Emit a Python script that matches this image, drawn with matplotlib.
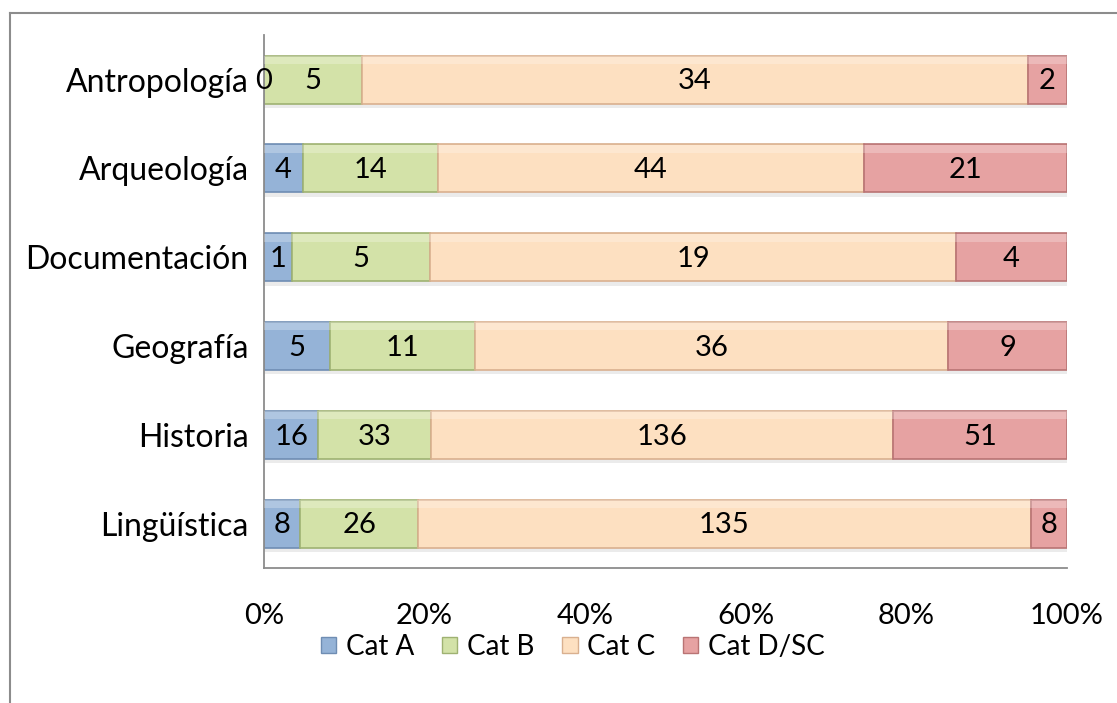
import matplotlib.pyplot as plt
import matplotlib.patches as mpatches
import numpy as np

plt.rcParams['font.family'] = ['Lato', 'DejaVu Sans']

areas = ["Antropología", "Arqueología", "Documentación", "Geografía", "Historia", "Lingüística"]
series = ["Cat A", "Cat B", "Cat C", "Cat D/SC"]
cat_a = [0, 4, 1, 5, 16, 8]
cat_b = [5, 14, 5, 11, 33, 26]
cat_c = [34, 44, 19, 36, 136, 135]
cat_d = [2, 21, 4, 9, 51, 8]
ticks = [0, 20, 40, 60, 80, 100]

fills = ["#95b3d7", "#d3e2a8", "#fde0c1", "#e6a2a2"]
edges = ["#6f8db3", "#9fb272", "#d9b08f", "#b97474"]

vals = np.array([cat_a, cat_b, cat_c, cat_d], dtype=float)
pct = vals / vals.sum(axis=0) * 100

fig = plt.figure(figsize=(11.17, 7.03), dpi=100)
ax = fig.add_axes([0.2363, 0.192, 0.7189, 0.758])

fs = 21
y = np.arange(len(areas))
h = 0.54
left = np.zeros(len(areas))
# soft shadow under each whole bar
ax.barh(y + 0.05, 100, height=h, left=0, color="#000000", alpha=0.08, zorder=1)
for k in range(len(series)):
    ax.barh(y, pct[k], height=h, left=left, color=fills[k], edgecolor=edges[k],
            linewidth=1.2, zorder=2, label=series[k])
    # lighter top strip for a bevel look
    ax.barh(y - h / 2 + 0.05, pct[k], height=0.09, left=left, color="white",
            alpha=0.25, linewidth=0, zorder=3)
    for i in range(len(areas)):
        ax.text(left[i] + pct[k][i] / 2, y[i] + 0.02, str(int(vals[k][i])),
                ha="center", va="center", fontsize=fs, zorder=4)
    left = left + pct[k]

ax.set_ylim(len(areas) - 0.5, -0.5)
ax.set_xlim(0, 100)
ax.set_yticks(y)
ax.set_yticklabels(areas, fontsize=23)
ax.set_xticks(ticks)
ax.set_xticklabels([f"{t}%" for t in ticks], fontsize=fs)
ax.tick_params(axis="both", length=0)
ax.tick_params(axis="x", pad=25)
ax.tick_params(axis="y", pad=11)
for s in ["top", "right"]:
    ax.spines[s].set_visible(False)
for s in ["left", "bottom"]:
    ax.spines[s].set_color("#8c8c8c")
    ax.spines[s].set_linewidth(1.3)

handles = [mpatches.Patch(facecolor=fills[k], edgecolor=edges[k], label=series[k])
           for k in range(len(series))]
fig.legend(handles=handles, loc="center", bbox_to_anchor=(0.513, 0.08), ncol=4,
           frameon=False, fontsize=20, handlelength=0.55, handleheight=0.55,
           handletextpad=0.35, columnspacing=1.0)

# outer chart border (top and left visible)
fig.add_artist(plt.Line2D([0.009, 1.0], [0.981, 0.981], color="#8c8c8c", lw=1.5))
fig.add_artist(plt.Line2D([0.009, 0.009], [0.0, 0.981], color="#8c8c8c", lw=1.5))

fig.savefig("out.png", dpi=100)
